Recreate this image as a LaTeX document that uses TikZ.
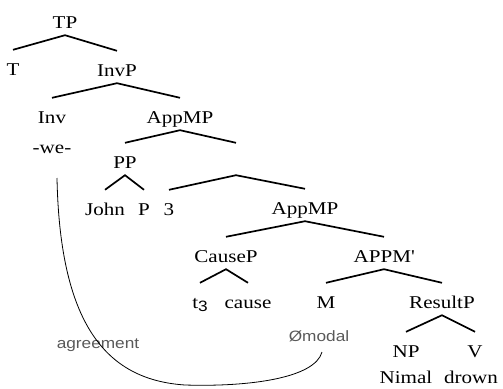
\documentclass[tikz,border=0pt]{standalone}
\usepackage{fontspec}
\setmainfont{Liberation Serif}[FakeStretch=1.17]
\newfontfamily\grayfont{Liberation Sans}[FakeStretch=1.15]
\begin{document}
\begin{tikzpicture}[x=1pt,y=-1pt,
  tn/.style={inner sep=0pt, anchor=base, text height=25pt, text depth=7pt, font=\fontsize{18}{20}\selectfont},
  lf/.style={inner sep=0pt, anchor=base, font=\fontsize{18}{20}\selectfont},
  gl/.style={inner sep=0pt, anchor=base, text=black!65, font=\grayfont\fontsize{15}{17}\selectfont},
  br/.style={line width=1.7pt, black},
  agr/.style={line width=0.8pt, black}]
\useasboundingbox (0,0) rectangle (503,388);
% nodes
\node[tn] (TP) at (65,28) {TP};
\node[tn] (T) at (13,75) {T};
\node[tn] (InvP) at (117,76) {InvP};
\node[tn] (Inv) at (52,123) {Inv};
\node[tn] (AppMP) at (180,123) {AppMP};
\node[lf] (we) at (52,153) {-we-};
\node[tn] (PP) at (125,168) {PP};
\node[tn] (X) at (236,168) {};
\node[tn] (John) at (105,215) {John};
\node[tn] (P) at (144,215) {P};
\node[tn] (three) at (169,215) {3};
\node[tn] (AppMPb) at (305,214) {AppMP};
\node[tn] (CauseP) at (226,262) {CauseP};
\node[tn] (APPMp) at (384,262) {APPM\textquotesingle};
\node[tn] (t3) at (200,308) {t\raisebox{-0.4ex}{\grayfont\fontsize{15}{15}\selectfont 3}};
\node[tn] (cause) at (248,308) {cause};
\node[tn] (M) at (326,308) {M};
\node[tn] (ResultP) at (442,308) {ResultP};
\node[gl] (modal) at (319,341) {Ømodal};
\node[tn] (NP) at (406,357) {NP};
\node[tn] (V) at (475,357) {V};
\node[lf] (Nimal) at (406,383) {Nimal};
\node[lf] (drown) at (471,383) {drown};
\node[gl] (agreement) at (98,348) {agreement};
% branches
\draw[br] (T.north) -- (TP.south) -- (InvP.north);
\draw[br] (Inv.north) -- (InvP.south) -- (AppMP.north);
\draw[br] (PP.north) -- (AppMP.south) -- (X.north);
\draw[br] (John.north) -- (PP.south) -- (P.north);
\draw[br] (three.north) -- (X.south) -- (AppMPb.north);
\draw[br] (CauseP.north) -- (AppMPb.south) -- (APPMp.north);
\draw[br] (t3.north) -- (CauseP.south) -- (cause.north);
\draw[br] (M.north) -- (APPMp.south) -- (ResultP.north);
\draw[br] (NP.north) -- (ResultP.south) -- (V.north);
% agreement curve
\coordinate (c1) at (57,178);
\coordinate (c2) at (322,352);
\coordinate (cb) at (185,385);
\draw[agr] (c1) .. controls (60,330) and (110,380) .. (cb) .. controls (250,387) and (315,378) .. (c2);
\end{tikzpicture}
\end{document}
